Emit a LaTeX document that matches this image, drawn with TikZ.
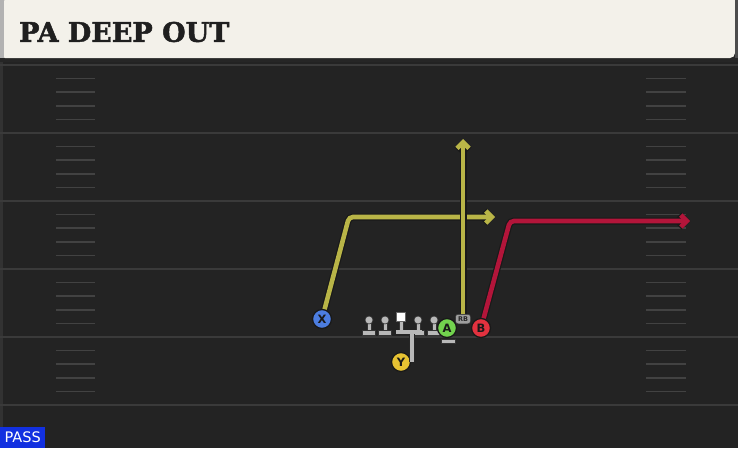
\documentclass[tikz,border=0pt]{standalone}
\usepackage{fontspec}
\setmainfont{DejaVu Sans}
\newfontfamily\titlefont{DejaVu Serif}[BoldFeatures={FakeBold=1.8}]
\usetikzlibrary{arrows.meta}

\definecolor{field}{HTML}{232323}
\definecolor{yardln}{HTML}{3A3A3A}
\definecolor{hashln}{HTML}{424242}
\definecolor{cream}{HTML}{F3F1EA}
\definecolor{routey}{HTML}{B9B547}
\definecolor{router}{HTML}{B3153A}
\definecolor{blockg}{HTML}{B8B8B8}
\definecolor{plx}{HTML}{4C7DE0}
\definecolor{pla}{HTML}{72D24E}
\definecolor{plb}{HTML}{E2323F}
\definecolor{ply}{HTML}{E6C232}
\definecolor{passblue}{HTML}{1230E0}

\tikzset{
  player/.style={circle, draw=black!90, line width=1.3pt, minimum size=19pt, inner sep=0pt,
    font=\fontsize{11.5}{11.5}\selectfont\bfseries, text=black!90},
  lineman/.style={circle, fill=blockg, draw=black!80, line width=0.6pt, minimum size=8pt, inner sep=0pt},
  route/.style={line width=4.6pt, rounded corners=4pt,
    preaction={draw=black!90, line width=7pt}},
  tip/.style={-{Straight Barb[length=6pt,width=12pt]}},
}

\begin{document}
\begin{tikzpicture}[x=1pt, y=-1pt]
  \useasboundingbox (0,0) rectangle (738,448);
  % field
  \fill[field] (0,0) rectangle (738,448);
  \fill[white!7!field] (0,58) rectangle (3,448);
  \foreach \yy in {65,133,201,269,337,405}
    \draw[yardln, line width=2pt] (0,\yy) -- (738,\yy);
  \foreach \yy in {65,133,201,269,337} {
    \foreach \k in {1,2,3,4} {
      \draw[hashln, line width=1.5pt] (56,\yy+13.6*\k) -- (95,\yy+13.6*\k);
      \draw[hashln, line width=1.5pt] (646,\yy+13.6*\k) -- (686,\yy+13.6*\k);
    }
  }

  % header
  \fill[black!85] (0,56) rectangle (738,62);
  \fill[cream] (0,0) -- (735,0) -- (735,52) [rounded corners=5pt] -- (735,58) -- (0,58) -- cycle;
  \fill[black!70] (735,0) rectangle (738,58);
  \fill[black!30] (0,0) rectangle (4,58);
  \node[anchor=west, inner sep=0pt, text=black!88,
    font=\titlefont\bfseries\fontsize{27}{27}\selectfont] (title) at (19,32) {PA DEEP OUT};

  % pass tag
  \node[fill=passblue, anchor=south west, minimum width=45pt, minimum height=21pt,
    inner sep=0pt, text=white, font=\fontsize{14.5}{14.5}\selectfont] (pass) at (0,448) {PASS};

  % line
  \foreach \nm/\xx in {lt/369, lg/385, rg/418, rt/434} {
    \fill[blockg, draw=black!80, line width=0.5pt] (\xx-2.2,322) rectangle (\xx+2.2,331);
    \fill[blockg, draw=black!80, line width=0.5pt] (\xx-6.5,330) rectangle (\xx+6.5,335.5);
    \node[lineman] (\nm) at (\xx,320) {};
  }
  \fill[blockg, draw=black!80, line width=0.5pt] (399,320) rectangle (403,331);
  \node[fill=white, draw=black!60, line width=0.5pt, minimum size=9pt, inner sep=0pt] (c) at (401,317) {};

  % players
  \node[player, fill=plx] (X) at (322,319) {X};
  \node[player, fill=pla] (A) at (447,328) {A};
  \node[player, fill=plb] (B) at (481,328) {B};
  \node[player, fill=ply] (Y) at (401,362) {Y};
  \node[fill=black!38, draw=black!80, line width=0.5pt, rounded corners=2.5pt, minimum width=15pt,
    minimum height=9.5pt, inner sep=0pt, text=black!85, font=\fontsize{6.5}{6.5}\selectfont\bfseries] (RB) at (463,319) {RB};
  \fill[blockg, draw=black!80, line width=0.5pt] (441,339.5) rectangle (455,343.5);

  % routes
  \coordinate (xbrk) at (349,217);
  \coordinate (xend) at (495,217);
  \coordinate (rbend) at (463,139);
  \coordinate (bbrk) at (510,221);
  \coordinate (bend) at (690,221);
  \coordinate (ytop) at (412,331);
  \coordinate (tl) at (396,331.5);
  \coordinate (tr) at (422,331.5);

  \draw[route, routey, tip] (X) -- (xbrk) -- (xend);
  \draw[route, routey, tip] (RB) -- (rbend);
  \draw[route, router, tip] (B) -- (bbrk) -- (bend);
  \draw[blockg, line width=4pt, preaction={draw=black!85, line width=5.4pt}] (Y.east -| ytop) -- (ytop);
  \draw[blockg, line width=4pt] (tl) -- (tr);
\end{tikzpicture}
\end{document}
